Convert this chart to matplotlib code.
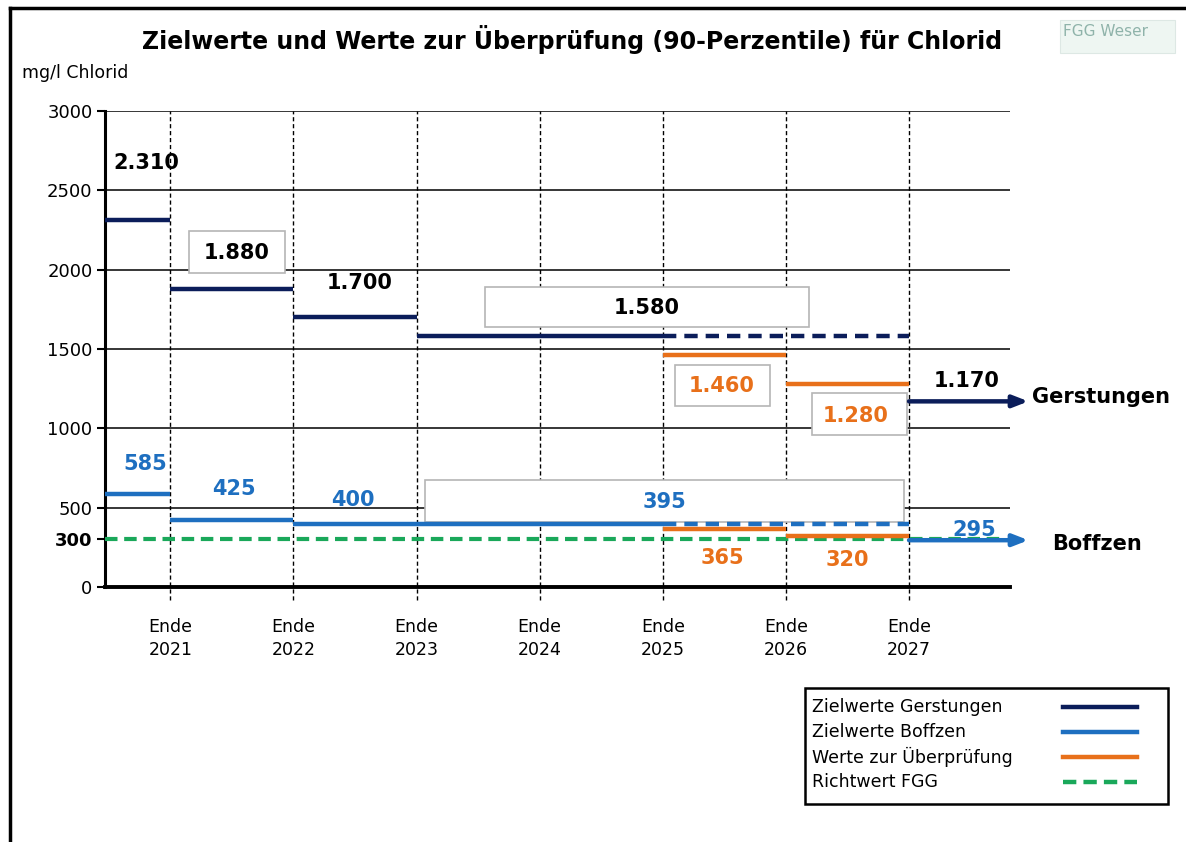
import matplotlib
matplotlib.use("Agg")
import matplotlib.pyplot as plt
from matplotlib.lines import Line2D
from matplotlib.patches import Rectangle

# Daten
jahre = ["2021", "2022", "2023", "2024", "2025", "2026", "2027"]
x_pos = [1, 2, 3, 4, 5, 6, 7]

# Zielwerte Gerstungen (Startx, Endx, Wert)
gerst_start = [0.47, 1, 2, 3]
gerst_ende = [1, 2, 3, 5]
gerst_werte = [2310, 1880, 1700, 1580]
gerst_fortsetzung = (5, 7, 1580)      # gestrichelt
gerst_ab_2027 = 1170

# Zielwerte Boffzen
boff_start = [0.47, 1, 2, 3]
boff_ende = [1, 2, 3, 5]
boff_werte = [585, 425, 400, 395]
boff_fortsetzung = (5, 7, 395)
boff_ab_2027 = 295

# Werte zur Überprüfung
pruef_start = [5, 6]
pruef_ende = [6, 7]
pruef_gerst = [1460, 1280]
pruef_boff = [365, 320]

richtwert = 300

y_ticks = [0, 300, 500, 1000, 1500, 2000, 2500, 3000]
gitter = [500, 1000, 1500, 2000, 2500, 3000]

c_gerst = "#0b1d5a"
c_boff = "#1e6fc0"
c_pruef = "#e8701a"
c_gruen = "#1aa85a"

fig = plt.figure(figsize=(11.86, 8.42), dpi=100)
ax = fig.add_axes([105/1186, 1-587/842, (1010-105)/1186, (587-111)/842])
ax.set_xlim(0.47, 7.82)
ax.set_ylim(0, 3000)

# Gitter
for g in gitter:
    ax.axhline(g, color="black", lw=1.1, zorder=1)
for xp in x_pos:
    ax.plot([xp, xp], [-85, 3000], color="black", lw=1, ls=(0, (3, 2)),
            clip_on=False, zorder=1)

# Beschriftungsboxen
def box(x0, x1, y0, y1):
    ax.add_patch(Rectangle((x0, y0), x1-x0, y1-y0, facecolor="white",
                           edgecolor="#b5b5b5", lw=1.2, zorder=2))

box(1.154, 1.933, 1979, 2244)
box(3.555, 6.19, 1639, 1891)
box(5.10, 5.87, 1141, 1399)
box(6.21, 6.985, 958, 1223)
box(3.07, 6.96, 410, 674)

# Richtwert
ax.plot([0.47, 7.74], [richtwert, richtwert], color=c_gruen, lw=3,
        ls=(0, (3, 1.6)), zorder=3, clip_on=False)

# Linien
for s, e, v in zip(gerst_start, gerst_ende, gerst_werte):
    ax.plot([s, e], [v, v], color=c_gerst, lw=3.2, zorder=4, solid_capstyle="butt")
ax.plot(gerst_fortsetzung[:2], [gerst_fortsetzung[2]]*2, color=c_gerst, lw=3.2,
        ls=(0, (3, 1.8)), zorder=4)
for s, e, v in zip(boff_start, boff_ende, boff_werte):
    ax.plot([s, e], [v, v], color=c_boff, lw=3.2, zorder=4, solid_capstyle="butt")
ax.plot(boff_fortsetzung[:2], [boff_fortsetzung[2]]*2, color=c_boff, lw=3.2,
        ls=(0, (3, 1.8)), zorder=4)
for s, e, v1, v2 in zip(pruef_start, pruef_ende, pruef_gerst, pruef_boff):
    ax.plot([s, e], [v1, v1], color=c_pruef, lw=3.2, zorder=4, solid_capstyle="butt")
    ax.plot([s, e], [v2, v2], color=c_pruef, lw=3.2, zorder=4, solid_capstyle="butt")

# Pfeile ab Ende 2027
for v, c in [(gerst_ab_2027, c_gerst), (boff_ab_2027, c_boff)]:
    ax.annotate("", xy=(7.97, v), xytext=(7, v), annotation_clip=False,
                arrowprops=dict(arrowstyle="-|>,head_length=0.9,head_width=0.35",
                                color=c, lw=3.2, shrinkA=0, shrinkB=0), zorder=5)

# Wertebeschriftungen
bold = dict(fontsize=15, fontweight="bold", ha="center", va="center", zorder=6)
ax.text(0.805, 2672, "2.310", color="black", **bold)
ax.text(1.535, 2105, "1.880", color="black", **bold)
ax.text(2.54, 1916, "1.700", color="black", **bold)
ax.text(4.87, 1758, "1.580", color="black", **bold)
ax.text(5.48, 1267, "1.460", color=c_pruef, **bold)
ax.text(6.57, 1078, "1.280", color=c_pruef, **bold)
ax.text(7.47, 1298, "1.170", color="black", **bold)
ax.text(0.797, 775, "585", color=c_boff, **bold)
ax.text(1.52, 618, "425", color=c_boff, **bold)
ax.text(2.48, 548, "400", color=c_boff, **bold)
ax.text(5.015, 536, "395", color=c_boff, **bold)
ax.text(5.48, 183, "365", color=c_pruef, **bold)
ax.text(6.5, 170, "320", color=c_pruef, **bold)
ax.text(7.53, 359, "295", color=c_boff, **bold)
ax.text(8.0, 1197, "Gerstungen", fontsize=15, fontweight="bold", ha="left",
        va="center", clip_on=False)
ax.text(8.16, 271, "Boffzen", fontsize=15, fontweight="bold", ha="left",
        va="center", clip_on=False)

# Achsen
for sp in ["top", "right"]:
    ax.spines[sp].set_visible(False)
ax.spines["left"].set_linewidth(2.2)
ax.spines["bottom"].set_linewidth(2.8)
ax.set_yticks(y_ticks)
ax.set_yticklabels([str(t) for t in y_ticks], fontsize=13)
ax.get_yticklabels()[1].set_fontweight("bold")
ax.tick_params(axis="y", length=6, width=1.5, pad=3)
ax.set_xticks(x_pos)
ax.set_xticklabels(["Ende\n" + j for j in jahre], fontsize=12.5, linespacing=1.4)
ax.tick_params(axis="x", length=0, pad=22)

# Titel, Einheit, Logo
fig.text(572/1186, 1-40/842,
         "Zielwerte und Werte zur Überprüfung (90-Perzentile) für Chlorid",
         fontsize=17, fontweight="bold", ha="center", va="center")
fig.text(22/1186, 1-73/842, "mg/l Chlorid", fontsize=12.5, ha="left", va="center")
fig.add_artist(Rectangle((1060/1186, 1-53/842), 115/1186, 33/842,
                         transform=fig.transFigure, facecolor="#eef6f2",
                         edgecolor="#dde8e4", lw=0.8))
fig.text(1063/1186, 1-31/842, "FGG Weser", fontsize=11, color="#8fb3aa",
         ha="left", va="center")

# Rahmen links und oben
fig.add_artist(Line2D([10/1186, 10/1186], [0, 1-8/842], color="black", lw=2.5))
fig.add_artist(Line2D([10/1186, 1], [1-8/842, 1-8/842], color="black", lw=2.5))

# Legende
fig.add_artist(Rectangle((805/1186, 1-804/842), (1168-805)/1186, (804-688)/842,
                         transform=fig.transFigure, facecolor="white",
                         edgecolor="black", lw=1.8))
eintraege = [("Zielwerte Gerstungen", c_gerst, "-"),
             ("Zielwerte Boffzen", c_boff, "-"),
             ("Werte zur Überprüfung", c_pruef, "-"),
             ("Richtwert FGG", c_gruen, (0, (3, 1.6)))]
for i, (lab, c, ls) in enumerate(eintraege):
    yy = 1 - (707 + 25*i)/842
    fig.text(812/1186, yy, lab, fontsize=12.5, ha="left", va="center")
    fig.add_artist(Line2D([1063/1186, 1137/1186], [yy, yy], color=c, lw=3.2, ls=ls))

fig.savefig("out.png", dpi=100)
